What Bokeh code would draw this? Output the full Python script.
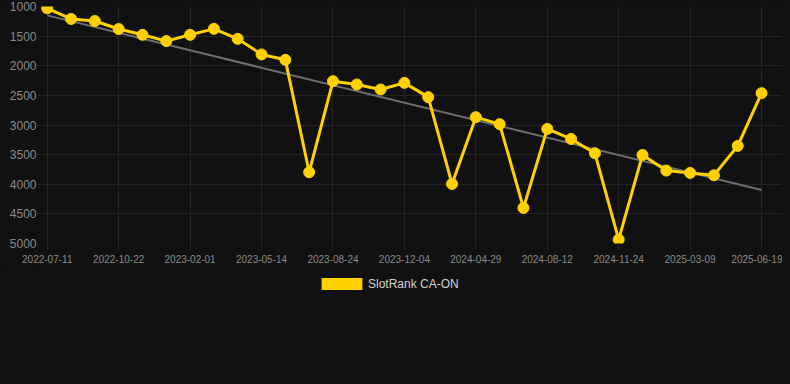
from bokeh.plotting import figure
from bokeh.layouts import column
from bokeh.models import Range1d, FixedTicker, Legend, LegendItem
from bokeh.embed import file_html
from bokeh.resources import INLINE

# ---- data ----
tick_labels = ["2022-07-11", "2022-10-22", "2023-02-01", "2023-05-14", "2023-08-24",
               "2023-12-04", "2024-04-29", "2024-08-12", "2024-11-24", "2025-03-09",
               "2025-06-19"]
label_every = 3
ranks = [1030, 1210, 1245, 1380, 1478, 1584, 1478, 1377, 1546, 1809, 1900,
         3797, 2260, 2316, 2400, 2289, 2530, 3995, 2868, 2986, 4400, 3066,
         3235, 3476, 4934, 3505, 3769, 3809, 3848, 3353, 2463]
trend = [1150, 4096]
series_name = "SlotRank CA-ON"
y_ticks = [1000, 1500, 2000, 2500, 3000, 3500, 4000, 4500, 5000]

BG = "#111111"
YELLOW = "#FFD100"
GRID = "#242424"

idx = list(range(len(ranks)))
tick_pos = idx[::label_every]

p = figure(frame_width=745, frame_height=237, output_backend="svg", toolbar_location=None,
           x_range=Range1d(-0.41, 30.88), y_range=Range1d(5000, 1000),
           min_border_left=37, min_border_right=0, min_border_top=6,
           min_border_bottom=0)
p.background_fill_color = BG
p.border_fill_color = BG
p.outline_line_color = None

# grid
p.xaxis.ticker = FixedTicker(ticks=tick_pos)
p.yaxis.ticker = FixedTicker(ticks=y_ticks)
p.xgrid.grid_line_color = GRID
p.ygrid.grid_line_color = GRID

# axes
p.xaxis.major_label_overrides = {t: lab for t, lab in zip(tick_pos, tick_labels)}
for ax in (p.xaxis, p.yaxis):
    ax.axis_line_color = None
    ax.minor_tick_line_color = None
    ax.major_label_text_color = "#8a8a8a"
    ax.major_label_text_font = "Liberation Sans"
p.xaxis.major_tick_line_color = GRID
p.xaxis.major_tick_out = 6
p.xaxis.major_tick_in = 0
p.xaxis.major_label_standoff = 5
p.xaxis.major_label_text_font_size = "10px"
p.yaxis.major_tick_line_color = None
p.yaxis.major_tick_out = 0
p.yaxis.major_tick_in = 0
p.yaxis.major_label_standoff = 1
p.yaxis.major_label_text_font_size = "12px"

# trend line
p.line([idx[0], idx[-1]], trend, line_color="#6e6e6e", line_width=2)

# series
p.line(idx, ranks, line_color=YELLOW, line_width=3)
p.scatter(idx, ranks, size=11, fill_color=YELLOW, line_color=YELLOW)

# ---- legend strip below the chart ----
leg_w, leg_h = 782, 110
q = figure(width=leg_w, height=leg_h, output_backend="svg", toolbar_location=None,
           x_range=Range1d(0, leg_w), y_range=Range1d(0, leg_h),
           x_axis_type=None, y_axis_type=None,
           min_border_left=0, min_border_right=0, min_border_top=0, min_border_bottom=0)
q.background_fill_color = BG
q.border_fill_color = BG
q.outline_line_color = None
q.xgrid.visible = False
q.ygrid.visible = False
sw = q.rect(x=[0], y=[0], width=0, height=0, fill_color=YELLOW, line_color=None)
legend = Legend(items=[LegendItem(label=series_name, renderers=[sw])],
                location=(279, 84), orientation="horizontal",
                glyph_width=51, glyph_height=15, label_height=12,
                label_standoff=1, padding=0, margin=0, spacing=0,
                background_fill_alpha=0, border_line_color=None,
                label_text_color="#d0d0d0", label_text_font_size="12px",
                label_text_font="Liberation Sans")
q.add_layout(legend, "center")

layout = column(p, q, spacing=0)
html = file_html(layout, INLINE)
html = html.replace("<head>", "<head><style>html,body{background:#111111;}</style>", 1)
open("out.html", "w").write(html)
